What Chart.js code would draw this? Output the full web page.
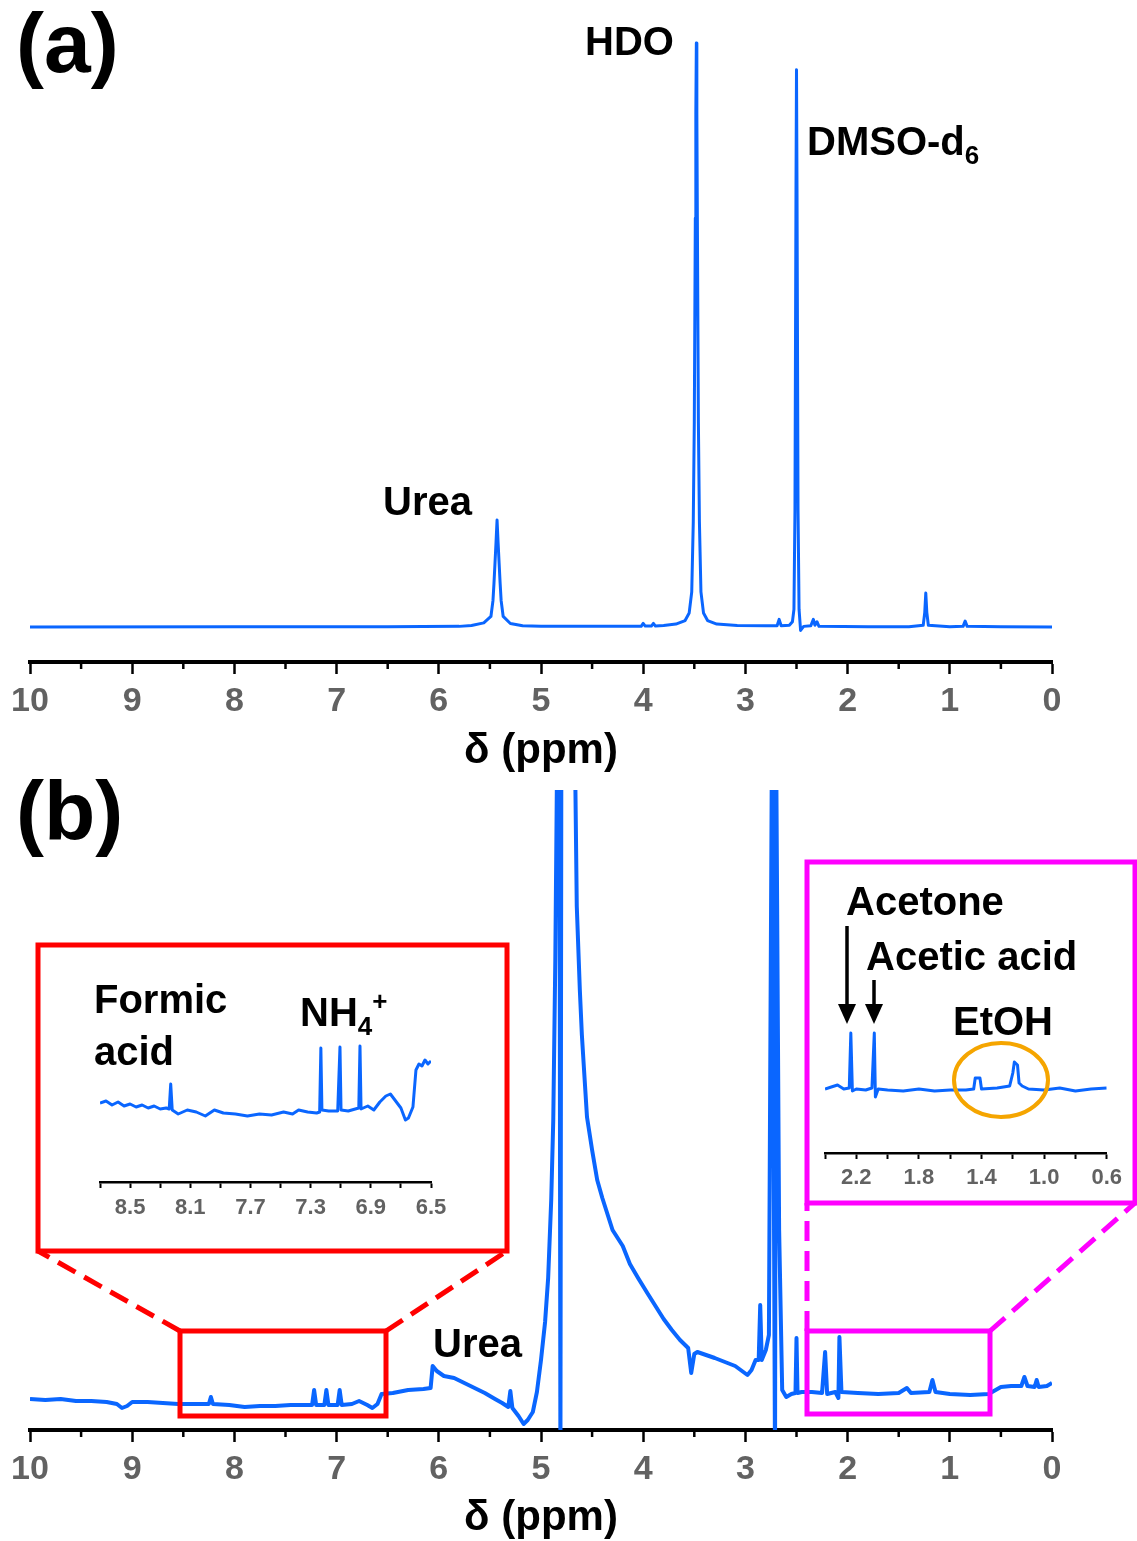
<!DOCTYPE html>
<html lang="en">
<head>
<meta charset="UTF-8">
<title>1H NMR spectra</title>
<script src="https://cdn.jsdelivr.net/npm/chart.js"></script>
<style>
    body {
        margin: 0;
        background: #fff;
        font-family: 'Liberation Sans', Arial, sans-serif;
    }
    #page {
        position: relative;
        width: 1137px;
        height: 1541px;
        overflow: hidden;
    }
    canvas, svg {
        position: absolute;
    }
    .lbl {
        position: absolute;
        font-weight: bold;
        font-size: 40px;
        line-height: 1;
        color: #000;
        white-space: nowrap;
    }
    .big { font-size: 84px; }
    .sub { font-size: 26px; vertical-align: -9px; }
    .sup { font-size: 26px; vertical-align: 16px; }
</style>
</head>
<body>
<div id="page">
    <canvas id="chartA" width="1137" height="790" style="left:0;top:0"></canvas>
    <canvas id="chartB" width="1137" height="771" style="left:0;top:770px"></canvas>
    <canvas id="insetRed" width="461" height="295" style="left:42px;top:950px"></canvas>
    <canvas id="insetPink" width="318" height="334" style="left:812px;top:868px"></canvas>

    <svg width="1137" height="1541" style="left:0;top:0">
        <g fill="none" stroke-width="5">
            <rect x="38" y="945" width="469" height="306" stroke="#ff0000"/>
            <rect x="180" y="1331" width="206" height="85" stroke="#ff0000"/>
            <line x1="180" y1="1331" x2="38" y2="1251" stroke="#ff0000" stroke-dasharray="20 10"/>
            <line x1="386" y1="1331" x2="507" y2="1251" stroke="#ff0000" stroke-dasharray="20 10"/>
            <rect x="807" y="862" width="328" height="341" stroke="#ff00ff"/>
            <rect x="807" y="1331" width="183" height="83" stroke="#ff00ff"/>
            <line x1="807" y1="1331" x2="807" y2="1203" stroke="#ff00ff" stroke-dasharray="20 10"/>
            <line x1="990" y1="1331" x2="1135" y2="1203" stroke="#ff00ff" stroke-dasharray="20 10"/>
            <ellipse cx="1001" cy="1080" rx="47" ry="37" stroke="#f5a500" stroke-width="4"/>
        </g>
        <g stroke="#000" stroke-width="3.5">
            <line x1="847" y1="926" x2="847" y2="1008"/>
            <line x1="874" y1="980" x2="874" y2="1008"/>
        </g>
        <g fill="#000">
            <polygon points="838,1004 856,1004 847,1024"/>
            <polygon points="865,1004 883,1004 874,1024"/>
        </g>
    </svg>

    <div class="lbl big" style="left:16px;top:1px">(a)</div>
    <div class="lbl" style="left:585px;top:21px">HDO</div>
    <div class="lbl" style="left:807px;top:121px">DMSO-d<span class="sub">6</span></div>
    <div class="lbl" style="left:383px;top:481px">Urea</div>

    <div class="lbl big" style="left:16px;top:769px">(b)</div>
    <div class="lbl" style="left:433px;top:1323px">Urea</div>
    <div class="lbl" style="left:94px;top:979px">Formic</div>
    <div class="lbl" style="left:94px;top:1031px">acid</div>
    <div class="lbl" style="left:300px;top:988px">NH<span class="sub">4</span><span class="sup">+</span></div>
    <div class="lbl" style="left:846px;top:881px">Acetone</div>
    <div class="lbl" style="left:866px;top:936px">Acetic acid</div>
    <div class="lbl" style="left:953px;top:1001px">EtOH</div>
</div>

<script>
    // axis ticks
    const majorTicks = [10, 9, 8, 7, 6, 5, 4, 3, 2, 1, 0];
    const minorTicks = [9.5, 8.5, 7.5, 6.5, 5.5, 4.5, 3.5, 2.5, 1.5, 0.5];
    const redTicks = [8.7, 8.5, 8.3, 8.1, 7.9, 7.7, 7.5, 7.3, 7.1, 6.9, 6.7, 6.5];
    const redTickLabels = [8.5, 8.1, 7.7, 7.3, 6.9, 6.5];
    const pinkTicks = [2.4, 2.2, 2.0, 1.8, 1.6, 1.4, 1.2, 1.0, 0.8, 0.6];
    const pinkTickLabels = [2.2, 1.8, 1.4, 1.0, 0.6];

    // (a) spectrum, intensity relative to HDO = 100
    const ppmA = [10.0, 8.0, 6.5, 5.8, 5.68, 5.56, 5.49, 5.47, 5.46, 5.45, 5.44, 5.43, 5.42, 5.41, 5.40, 5.39, 5.37, 5.30, 5.18,
        5.0, 4.5, 4.02, 4.0, 3.98, 3.92, 3.90, 3.88, 3.80, 3.68, 3.59, 3.55, 3.525, 3.51, 3.50, 3.49, 3.485, 3.48, 3.475, 3.47,
        3.46, 3.45, 3.435, 3.41, 3.37, 3.28, 3.08, 2.80, 2.69, 2.67, 2.65, 2.57, 2.54, 2.525, 2.515, 2.505, 2.50, 2.495, 2.485, 2.475,
        2.46, 2.43, 2.36, 2.335, 2.32, 2.30, 2.28, 1.8, 1.4, 1.26, 1.245, 1.235, 1.225, 1.21, 1.0, 0.87, 0.85, 0.83, 0.5, 0.0];
    const intA = [0, 0.05, 0.05, 0.1, 0.25, 0.7, 1.8, 4.5, 7.5, 11.0, 14.5, 18.3, 14.5, 11.0, 7.5, 4.5, 1.8, 0.6, 0.2,
        0.1, 0.1, 0.1, 0.6, 0.15, 0.15, 0.6, 0.15, 0.25, 0.5, 1.1, 2.4, 6.0, 18, 35, 70, 88, 100, 88, 70,
        35, 18, 6.0, 2.4, 1.1, 0.5, 0.25, 0.2, 0.2, 1.3, 0.2, 0.3, 0.9, 3.0, 20, 75, 95.4, 75, 20, 3.0,
        -0.6, 0.1, 0.2, 1.3, 0.3, 0.9, 0.1, 0.05, 0.05, 0.3, 2.5, 5.8, 2.5, 0.3, 0.05, 0.1, 1.0, 0.1, 0.05, 0];

    // (b) spectrum, expanded vertical scale
    const ppmB = [10.0, 9.85, 9.7, 9.55, 9.4, 9.25, 9.15, 9.1, 9.05, 9.0, 8.85, 8.7, 8.55, 8.4, 8.25, 8.23, 8.21, 8.05, 7.9, 7.75,
        7.6, 7.45, 7.3, 7.24, 7.22, 7.2, 7.12, 7.1, 7.08, 6.99, 6.97, 6.95, 6.85, 6.78, 6.7, 6.65, 6.6, 6.56, 6.45, 6.3,
        6.15, 6.08, 6.06, 6.02, 5.95, 5.85, 5.75, 5.65, 5.55, 5.45, 5.38, 5.32, 5.3, 5.28, 5.22, 5.17, 5.13, 5.08, 5.04, 5.0,
        4.96, 4.93, 4.9, 4.88, 4.86, 4.84, 4.82, 4.81, 4.80, 4.75, 4.67, 4.65, 4.62, 4.60, 4.58, 4.55, 4.50, 4.45, 4.40, 4.30,
        4.20, 4.13, 4.05, 3.96, 3.88, 3.80, 3.72, 3.64, 3.56, 3.53, 3.5, 3.47, 3.3, 3.1, 2.98, 2.94, 2.9, 2.87, 2.855, 2.84,
        2.8, 2.77, 2.74, 2.71, 2.70, 2.67, 2.64, 2.6, 2.55, 2.51, 2.5, 2.49, 2.45, 2.35, 2.25, 2.22, 2.2, 2.12, 2.09, 2.08,
        2.06, 1.9, 1.7, 1.5, 1.42, 1.38, 1.2, 1.17, 1.14, 1.0, 0.8, 0.62, 0.5, 0.4, 0.3, 0.27, 0.24, 0.17, 0.15, 0.13,
        0.05, 0.0];
    const intB = [31, 30, 31, 29, 29, 28, 26, 22, 24, 28, 28, 27, 26, 26, 26, 33, 26, 25, 23, 24,
        24, 25, 25, 25, 40, 25, 25, 40, 25, 25, 40, 25, 26, 29, 25, 22, 26, 36, 37, 40,
        41, 42, 64, 59, 54, 52, 47, 42, 37, 31, 27, 23, 39, 22, 14, 6, 10, 18, 38, 70,
        108, 152, 230, 310, 470, 700, 760, -40, 760, 760, 700, 524, 440, 395, 362, 313, 280, 250, 232, 200,
        184, 166, 152, 137, 124, 111, 100, 90, 82, 57, 76, 78, 72, 64, 55, 60, 70, 70, 125, 70,
        80, 95, 700, -40, 700, 200, 40, 33, 36, 37, 92, 37, 38, 38, 37, 78, 36, 38, 32, 93,
        38, 37, 36, 37, 42, 37, 38, 50, 38, 36, 35, 36, 43, 44, 44, 53, 44, 43, 50, 43,
        44, 47];

    // red inset (8.7 - 6.5 ppm)
    const ppmRed = [8.7, 8.66, 8.62, 8.58, 8.54, 8.5, 8.46, 8.42, 8.38, 8.34, 8.3, 8.26, 8.24, 8.23, 8.22, 8.18, 8.12, 8.06, 8.0, 7.94,
        7.88, 7.8, 7.72, 7.64, 7.56, 7.48, 7.42, 7.38, 7.32, 7.26, 7.24, 7.232, 7.225, 7.18, 7.12, 7.105, 7.098, 7.05, 6.98, 6.972,
        6.965, 6.92, 6.88, 6.84, 6.8, 6.77, 6.74, 6.7, 6.67, 6.65, 6.62, 6.6, 6.58, 6.56, 6.54, 6.52, 6.5];
    const intRed = [79, 81, 77, 80, 76, 78, 75, 77, 74, 76, 73, 74, 73, 98, 72, 68, 72, 70, 66, 72,
        69, 68, 66, 68, 67, 70, 68, 72, 70, 69, 70, 134, 72, 71, 71, 135, 72, 71, 74, 136,
        73, 76, 72, 80, 86, 88, 82, 74, 62, 64, 75, 112, 118, 116, 122, 118, 121];

    // magenta inset (2.4 - 0.6 ppm)
    const ppmPink = [2.4, 2.36, 2.32, 2.28, 2.245, 2.235, 2.225, 2.2, 2.14, 2.1, 2.085, 2.078, 2.06, 2.0, 1.9, 1.8, 1.7, 1.6, 1.5, 1.45,
        1.44, 1.41, 1.4, 1.3, 1.22, 1.2, 1.19, 1.17, 1.16, 1.14, 1.1, 1.0, 0.9, 0.8, 0.7, 0.6];
    const intPink = [64, 66, 68, 64, 65, 120, 62, 64, 63, 65, 120, 56, 64, 63, 62, 64, 62, 63, 63, 64,
        75, 75, 64, 65, 67, 80, 91, 88, 70, 67, 64, 63, 65, 62, 64, 65];

    const blue = '#0a66ff';
    const plain = "'Liberation Sans', Arial, sans-serif";

    const minorTickPlugin = {
        id: 'minorTicks',
        afterDraw(chart, args, opts) {
            if (!opts.values) return;
            const sx = chart.scales.x;
            const ctx = chart.ctx;
            const y0 = chart.chartArea.bottom;
            ctx.save();
            ctx.strokeStyle = '#000';
            ctx.lineWidth = opts.width;
            opts.values.forEach(v => {
                const px = sx.getPixelForValue(v);
                ctx.beginPath();
                ctx.moveTo(px, y0);
                ctx.lineTo(px, y0 + opts.length);
                ctx.stroke();
            });
            ctx.restore();
        }
    };

    function points(xs, ys) {
        return xs.map((x, i) => ({ x: x, y: ys[i] }));
    }

    function spectrum(id, xs, ys, cfg) {
        const ctx = document.getElementById(id).getContext('2d');
        return new Chart(ctx, {
            type: 'line',
            data: {
                datasets: [{
                    data: points(xs, ys),
                    borderColor: blue,
                    borderWidth: cfg.lineWidth,
                    borderJoinStyle: 'round',
                    pointRadius: 0,
                    tension: 0,
                    fill: false
                }]
            },
            options: {
                responsive: false,
                animation: false,
                layout: { padding: cfg.padding },
                plugins: {
                    legend: { display: false },
                    tooltip: { enabled: false },
                    minorTicks: cfg.minor || {}
                },
                scales: {
                    x: {
                        type: 'linear',
                        reverse: true,
                        min: cfg.xmin,
                        max: cfg.xmax,
                        afterBuildTicks: s => { s.ticks = cfg.ticks.map(v => ({ value: v })); },
                        afterFit: s => { s.height = cfg.axisHeight; },
                        grid: {
                            display: true,
                            drawOnChartArea: false,
                            drawTicks: true,
                            tickLength: cfg.tickLength,
                            tickWidth: cfg.tickWidth,
                            tickColor: '#000'
                        },
                        border: { display: true, color: '#000', width: cfg.borderWidth },
                        ticks: {
                            autoSkip: false,
                            maxRotation: 0,
                            color: '#626262',
                            padding: cfg.tickPadding,
                            font: cfg.tickFont,
                            callback: cfg.label
                        },
                        title: cfg.title || { display: false }
                    },
                    y: { display: false, min: cfg.ymin, max: cfg.ymax }
                }
            },
            plugins: [minorTickPlugin]
        });
    }

    const mainTitle = pb => ({
        display: true,
        text: 'δ (ppm)',
        color: '#000',
        font: { family: plain, size: 42, weight: 'bold', lineHeight: 1 },
        padding: { top: 0, bottom: pb }
    });

    spectrum('chartA', ppmA, intA, {
        lineWidth: 3, padding: { top: 40, left: 30, right: 85, bottom: 0 },
        xmin: 0, xmax: 10, ymin: -6, ymax: 100.5, ticks: majorTicks, axisHeight: 128,
        tickLength: 12, tickWidth: 2.5, borderWidth: 4, tickPadding: 11,
        tickFont: { family: plain, size: 34, weight: 'bold', lineHeight: 1 },
        label: v => String(v), title: mainTitle(18),
        minor: { values: minorTicks, length: 7, width: 2.5 }
    });

    spectrum('chartB', ppmB, intB, {
        lineWidth: 4, padding: { top: 20, left: 30, right: 85, bottom: 0 },
        xmin: 0, xmax: 10, ymin: 0, ymax: 640, ticks: majorTicks, axisHeight: 111,
        tickLength: 12, tickWidth: 2.5, borderWidth: 4, tickPadding: 11,
        tickFont: { family: plain, size: 34, weight: 'bold', lineHeight: 1 },
        label: v => String(v), title: mainTitle(2),
        minor: { values: minorTicks, length: 7, width: 2.5 }
    });

    const pick = list => v => list.some(l => Math.abs(l - v) < 1e-6) ? v.toFixed(1) : '';

    spectrum('insetRed', ppmRed, intRed, {
        lineWidth: 3, padding: { top: 50, left: 58, right: 72, bottom: 0 },
        xmin: 6.5, xmax: 8.7, ymin: 0, ymax: 182, ticks: redTicks, axisHeight: 63,
        tickLength: 6, tickWidth: 2, borderWidth: 2.5, tickPadding: 9,
        tickFont: { family: plain, size: 22, weight: 'bold', lineHeight: 1 },
        label: pick(redTickLabels)
    });

    spectrum('insetPink', ppmPink, intPink, {
        lineWidth: 3, padding: { top: 132, left: 13, right: 20, bottom: 0 },
        xmin: 0.6, xmax: 2.4, ymin: 0, ymax: 153, ticks: pinkTicks, axisHeight: 49,
        tickLength: 6, tickWidth: 2, borderWidth: 2.5, tickPadding: 8,
        tickFont: { family: plain, size: 22, weight: 'bold', lineHeight: 1 },
        label: pick(pinkTickLabels)
    });
</script>
</body>
</html>
